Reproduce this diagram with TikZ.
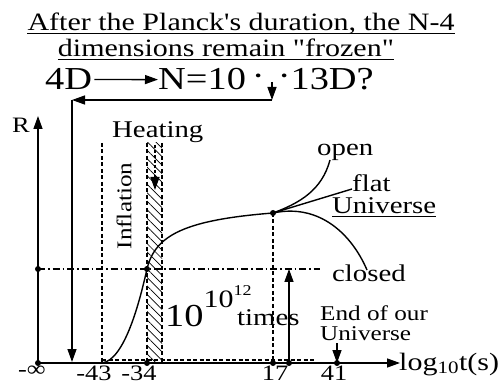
\documentclass[tikz,border=0pt]{standalone}
\usepackage{fontspec}
\setmainfont[FakeStretch=1.2]{Liberation Serif}
\newfontfamily\plainquotes[FakeStretch=1.2]{Liberation Serif}
\usetikzlibrary{positioning,arrows.meta,patterns.meta}

\begin{document}
\begin{tikzpicture}[x=1pt,y=-1pt,
    every node/.style={inner sep=0pt},
    head/.style={font=\plainquotes\fontsize{25}{27}\selectfont, anchor=base},
    lbl/.style={font=\fontsize{24}{26}\selectfont, anchor=base west},
    tick/.style={font=\fontsize{22}{24}\selectfont, anchor=north},
    arr/.style={line width=1.4pt, -{Triangle[length=13pt,width=9pt]}},
    guide/.style={line width=1.1pt, dash pattern=on 4pt off 2.5pt},
    dashdot/.style={line width=1.1pt, dash pattern=on 7pt off 3pt on 1.5pt off 3pt},
    curve/.style={line width=1.4pt},
    dot/.style={circle, fill=black, minimum size=6pt}
  ]
  \useasboundingbox (0,0) rectangle (504,385);

  % title
  \node[head] (line1) at (241,31) {After the Planck's duration, the N-4};
  \node[head] (line2) at (226,57) {dimensions remain "frozen"};
  \draw[line width=1pt] ([yshift=-3pt]line1.base west) -- ([yshift=-3pt]line1.base east);
  \draw[line width=1pt] ([yshift=-3pt]line2.base west) -- ([yshift=-3pt]line2.base east);
  \node[font=\fontsize{32}{34}\selectfont, anchor=base west] (d4) at (45,90) {4D};
  \node[font=\fontsize{32}{34}\selectfont, anchor=base west] (n10) at (158,90)
    {N=10\hspace{6pt}\raisebox{3pt}{·}\hspace{13pt}\raisebox{3pt}{·}13D?};
  \draw[arr, shorten <=2pt] (d4.east) -- (n10.west);

  % back to four dimensions
  \coordinate (dn) at (272,82);
  \coordinate (loopR) at (272,100);
  \coordinate (loopL) at (72,100);
  \coordinate (loopB) at (72,362);
  \draw[arr] (dn) -- (loopR);
  \draw[arr] (loopR) -- (loopL);
  \draw[arr] (loopL) -- (loopB);

  % axes
  \node[dot] (o) at (38,363) {};
  \coordinate (rtop) at (38,116);
  \coordinate (tend) at (400,363);
  \draw[arr] (o.center) -- (rtop);
  \draw[arr] (o.center) -- (tend);
  \node[font=\fontsize{22}{24}\selectfont, anchor=base west] (rlab) at (12,133) {R};
  \node[lbl, font=\fontsize{25}{27}\selectfont] (tlab) at (399,370) {log\textsubscript{10}t(s)};

  % marks on the time axis
  \node[dot] (d34) at (147,363) {};
  \node[dot] (d17) at (273,363) {};
  \node[dot] (b289) at (289,363) {};
  \node[dot] (e41) at (337,363) {};
  \node[tick] (minf) at (32,366) {-∞};
  \node[tick] (m43) at (94,366) {-43};
  \node[tick] (m34) at (139,366) {-34};
  \node[tick] (p17lab) at (275,366) {17};
  \node[tick] (p41lab) at (334,366) {41};
  \draw[guide] (102,360) -- (315,360);

  % inflation and heating
  \fill[pattern={Lines[angle=-45,distance=6pt,line width=0.7pt]}] (147,143) rectangle (162,363);
  \draw[guide] (102,143) -- (102,363);
  \draw[guide] (147,143) -- (d34.center);
  \draw[guide] (162,143) -- (162,363);
  \node[lbl] (heat) at (112,138) {Heating};
  \node[font=\fontsize{21}{23}\selectfont, rotate=90] (infl) at (124,206) {Inflation};
  \coordinate (heatTop) at (155,145);
  \coordinate (heatBot) at (155,190);
  \draw[arr, dash pattern=on 3pt off 2pt] (heatTop) -- (heatBot);

  % scale factor
  \node[dot] (rdot) at (38,269) {};
  \node[dot] (inf) at (147,269) {};
  \node[dot] (p17) at (273,213) {};
  \coordinate (hend) at (320,269);
  \draw[dashdot] (rdot.center) -- (hend);
  \draw[guide] (p17.center) -- (d17.center);
  \coordinate (s43) at (102,363);
  \draw[curve] (s43) .. controls (125,360) and (140,300) .. (inf.center)
    .. controls (155,235) and (185,220) .. (p17.center);

  % fates of the universe
  \coordinate (openEnd) at (330,160);
  \coordinate (flatEnd) at (352,189);
  \coordinate (closedEnd) at (367,270);
  \draw[curve] (p17.center) .. controls (300,203) and (322,190) .. (openEnd);
  \draw[curve] (p17.center) -- (flatEnd);
  \draw[curve] (p17.center) .. controls (320,203) and (352,235) .. (closedEnd);
  \node[lbl] (open) at (317,156) {open};
  \node[lbl] (flat) at (352,192) {flat};
  \node[lbl] (univ) at (332,214) {Universe};
  \draw[line width=1pt] ([yshift=-3pt]univ.base west) -- ([yshift=-3pt]univ.base east);
  \node[lbl] (closed) at (332,281) {closed};

  % growth and the end
  \coordinate (top289) at (289,269);
  \draw[arr] (b289.center) -- (top289);
  \node[anchor=base west] (pow) at (165,326) {\fontsize{32}{34}\selectfont 10\raisebox{19pt}{\fontsize{25}{27}\selectfont 10\raisebox{12pt}{\fontsize{15}{17}\selectfont 12}}};
  \node[lbl] (times) at (237,325) {times};
  \node[font=\fontsize{21}{20}\selectfont, align=left, anchor=north west] (endtxt) at (320,306)
    {End of our\\Universe};
  \coordinate (eTop) at (337,343);
  \draw[arr] (eTop) -- (e41.center);
\end{tikzpicture}
\end{document}
